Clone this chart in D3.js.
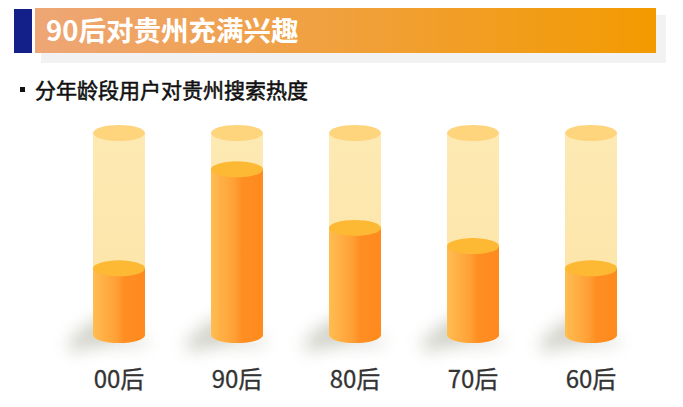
<!DOCTYPE html>
<html><head><meta charset="utf-8">
<script src="https://cdn.jsdelivr.net/npm/d3@7"></script>
<style>
html,body{margin:0;padding:0;background:#fff;}
svg{display:block;font-family:"Noto Sans CJK SC","Noto Sans",sans-serif;}
</style></head>
<body><svg id="c" width="683" height="407"></svg>
<script>
const title = "90后对贵州充满兴趣";
const subtitle = "分年龄段用户对贵州搜索热度";
const categories = ["00后","90后","80后","70后","60后"];
const values = [33, 82, 53, 44, 33];
const maxValue = 100;

const svg = d3.select("#c");
const defs = svg.append("defs");

const hg = defs.append("linearGradient").attr("id","hg");
hg.append("stop").attr("offset","0%").attr("stop-color","#EEA676");
hg.append("stop").attr("offset","100%").attr("stop-color","#F39A00");

const bg = defs.append("linearGradient").attr("id","bg");
bg.append("stop").attr("offset","0%").attr("stop-color","#FFBD52");
bg.append("stop").attr("offset","45%").attr("stop-color","#FFA035");
bg.append("stop").attr("offset","60%").attr("stop-color","#FF8E22");
bg.append("stop").attr("offset","100%").attr("stop-color","#FF8A1E");

const tg = defs.append("linearGradient").attr("id","tg").attr("x1",0).attr("y1",0).attr("x2",0).attr("y2",1);
tg.append("stop").attr("offset","0%").attr("stop-color","#FDE9B3");
tg.append("stop").attr("offset","100%").attr("stop-color","#FCE4A6");

const blur = defs.append("filter").attr("id","blur").attr("x","-100%").attr("y","-100%").attr("width","300%").attr("height","300%");
blur.append("feGaussianBlur").attr("stdDeviation",8);

// header
svg.append("rect").attr("x",41).attr("y",15).attr("width",625).attr("height",48).attr("fill","#F2F2F2");
svg.append("rect").attr("x",35).attr("y",8).attr("width",621).attr("height",45).attr("fill","url(#hg)");
svg.append("rect").attr("x",14).attr("y",9).attr("width",18).attr("height",44).attr("fill","#13208A");
svg.append("text").attr("x",46).attr("y",40.5).attr("fill","#fff").attr("font-size",27.5).attr("font-weight","bold").text(title);

// subtitle
svg.append("rect").attr("x",20).attr("y",87).attr("width",5).attr("height",5).attr("fill","#111");
svg.append("text").attr("x",35).attr("y",98).attr("fill","#111").attr("font-size",21).attr("font-weight","normal")
  .attr("stroke","#111").attr("stroke-width",0.55).text(subtitle);

const x = d3.scalePoint().domain(categories).range([119, 591]);
const y = d3.scaleLinear().domain([0, maxValue]).range([335, 133]);
const rx = 26, ry = 8;

const g = svg.append("g");
const items = categories.map((c,i)=>({c, v: values[i]}));
const col = g.selectAll("g.col").data(items).join("g").attr("class","col");

// shadow
col.append("ellipse")
  .attr("cx", d=>x(d.c)-20).attr("cy", y(0)-4)
  .attr("rx", 36).attr("ry", 12)
  .attr("transform", d=>`rotate(-30 ${x(d.c)-20} ${y(0)-4})`)
  .attr("fill","#9a9a88").attr("opacity",0.4).attr("filter","url(#blur)");
col.append("ellipse")
  .attr("cx", d=>x(d.c)+2).attr("cy", y(0)+6)
  .attr("rx", 30).attr("ry", 6)
  .attr("fill","#9a9a8a").attr("opacity",0.3).attr("filter","url(#blur)");

// background cylinder
col.append("path")
  .attr("d", d=>{
    const cx=x(d.c), t=y(maxValue), b=y(0);
    return `M${cx-rx},${t} L${cx-rx},${b} A${rx},${ry} 0 0 0 ${cx+rx},${b} L${cx+rx},${t} Z`;
  })
  .attr("fill","url(#tg)");
col.append("ellipse")
  .attr("cx", d=>x(d.c)).attr("cy", y(maxValue))
  .attr("rx", rx).attr("ry", ry).attr("fill","#FED57D");

// value cylinder
col.append("path")
  .attr("d", d=>{
    const cx=x(d.c), t=y(d.v), b=y(0);
    return `M${cx-rx},${t} L${cx-rx},${b} A${rx},${ry} 0 0 0 ${cx+rx},${b} L${cx+rx},${t} Z`;
  })
  .attr("fill","url(#bg)");
col.append("ellipse")
  .attr("cx", d=>x(d.c)).attr("cy", d=>y(d.v))
  .attr("rx", rx).attr("ry", ry).attr("fill","#FDB834");

// labels
col.append("text")
  .attr("x", d=>x(d.c)).attr("y", 388)
  .attr("text-anchor","middle").attr("font-size",24).attr("fill","#333")
  .attr("stroke","#333").attr("stroke-width",0.3)
  .text(d=>d.c);
</script></body></html>
